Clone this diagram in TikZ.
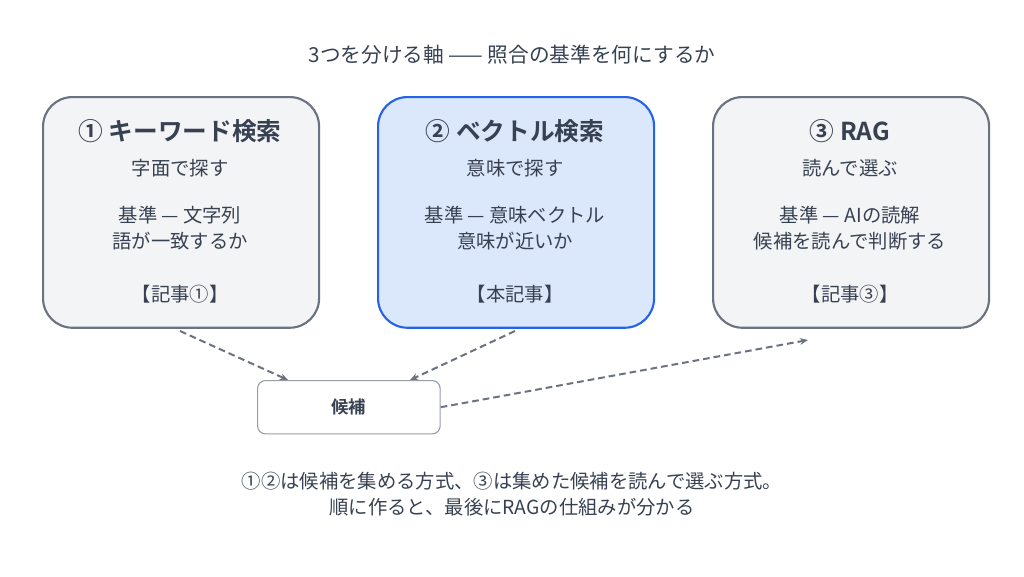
\documentclass[tikz,border=0pt]{standalone}
\usepackage{fontspec}
\setmainfont{Noto Sans CJK JP}[BoldFont={* Bold}]
\usetikzlibrary{arrows.meta}
\definecolor{ink}{HTML}{374151}
\definecolor{edge}{HTML}{6B7280}
\definecolor{pale}{HTML}{F3F4F6}
\definecolor{blueFill}{HTML}{DBE8FC}
\definecolor{blueEdge}{HTML}{2563EB}
\tikzset{
  method/.style={draw=edge, line width=1.6pt, fill=pale, rounded corners=22pt,
    minimum width=207pt, minimum height=173pt, anchor=north west},
  pick/.style={draw=edge!70, line width=0.8pt, fill=white, rounded corners=6pt,
    minimum width=137pt, minimum height=40pt, anchor=north west},
  link/.style={draw=edge, line width=1.5pt, dash pattern=on 5pt off 3pt,
    -{Stealth[length=6pt,width=5pt]}},
  txt/.style={text=ink, align=center, font=\fontsize{14.5}{19.5}\selectfont},
  head/.style={txt, font=\bfseries\fontsize{18.5}{22}\selectfont}
}
\begin{document}
\begin{tikzpicture}[x=0.75pt,y=-0.75pt]
    \useasboundingbox (0,0) rectangle (1024,576);
    \node[txt, font=\fontsize{15.5}{19}\selectfont] (title) at (512,55) {3つを分ける軸 —— 照合の基準を何にするか};

    \node[method] (kw) at (42,96) {};
    \node[method, fill=blueFill, draw=blueEdge] (vec) at (377,96) {};
    \node[method] (rag) at (712,96) {};

    \node[head] at (180,131) {① キーワード検索};
    \node[txt] at (180,168) {字面で探す};
    \node[txt] at (180,228) {基準 — 文字列\\語が一致するか};
    \node[txt] at (180,294) {【記事①】};

    \node[head] at (515,131) {② ベクトル検索};
    \node[txt] at (515,168) {意味で探す};
    \node[txt] at (515,228) {基準 — 意味ベクトル\\意味が近いか};
    \node[txt] at (515,294) {【本記事】};

    \node[head] at (850,131) {③ RAG};
    \node[txt] at (850,168) {読んで選ぶ};
    \node[txt] at (850,228) {基準 — AIの読解\\候補を読んで判断する};
    \node[txt] at (850,294) {【記事③】};

    \node[pick, txt, font=\bfseries\fontsize{13}{15}\selectfont] (cand) at (257,380) {候補};

    \coordinate (kwOut) at (180,331);
    \coordinate (vecOut) at (515,331);
    \coordinate (ragIn) at (808,340);
    \draw[link] (kwOut) -- (cand.north west -| 288,0) ;
    \draw[link] (vecOut) -- (cand.north west -| 410,0);
    \draw[link] (cand.east) -- (ragIn);

    \node[txt] (note) at (512,494) {①②は候補を集める方式、③は集めた候補を読んで選ぶ方式。\\順に作ると、最後にRAGの仕組みが分かる};
\end{tikzpicture}
\end{document}
